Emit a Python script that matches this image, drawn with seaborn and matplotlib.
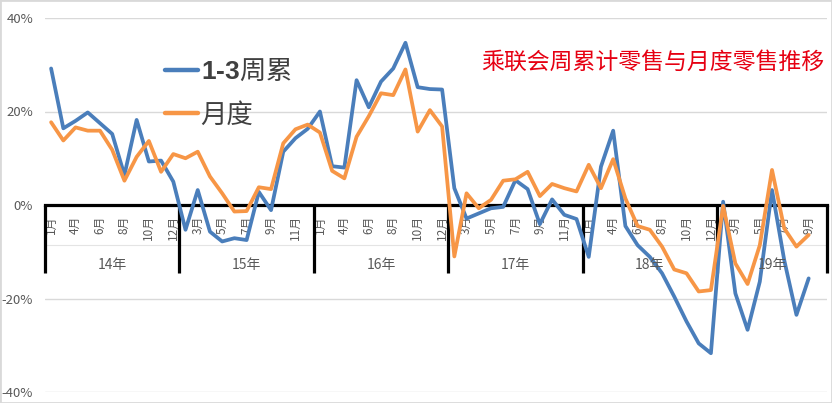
import matplotlib
matplotlib.use("Agg")
import matplotlib.pyplot as plt
import seaborn as sns
import pandas as pd
from matplotlib.patches import Rectangle

# ---------------- data ----------------
years = ["14年", "15年", "16年", "17年", "18年", "19年"]
months_year = ["1月", "3月", "4月", "5月", "6月", "7月", "8月", "9月", "10月", "11月", "12月"]
months_2019 = ["1月", "3月", "4月", "5月", "6月", "7月", "8月", "9月", "10月"]

weekly_cum = [  # 1-3周累 (%)
    29.2, 16.4, 18.0, 19.8, 17.5, 15.2, 6.4, 18.2, 9.3, 9.5, 5.0,
    -5.3, 3.2, -5.7, -7.8, -7.1, -7.5, 2.8, -1.1, 11.4, 14.3, 16.3,
    20.0, 8.3, 8.0, 26.7, 20.9, 26.4, 29.2, 34.7, 25.2, 24.8, 24.7,
    3.6, -2.9, -1.8, -0.7, -0.4, 5.3, 3.4, -4.1, 1.2, -2.1, -3.0,
    -11.1, 8.2, 15.9, -4.5, -8.6, -11.1, -14.6, -19.6, -24.9, -29.6, -31.7,
    0.7, -18.9, -26.7, -16.4, 3.2, -11.8, -23.5, -15.7,
]
monthly = [  # 月度 (%)
    17.7, 13.8, 16.6, 15.9, 15.9, 11.8, 5.2, 10.3, 13.7, 7.1, 10.9,
    10.0, 11.4, 6.1, 2.5, -1.4, -1.3, 3.8, 3.4, 13.2, 16.2, 17.2,
    15.5, 7.3, 5.7, 14.6, 19.0, 23.9, 23.5, 29.0, 15.7, 20.3, 16.8,
    -11.0, 2.5, -0.7, 1.1, 5.2, 5.5, 7.1, 1.9, 4.5, 3.6, 2.9,
    8.6, 3.6, 9.8, 1.4, -4.5, -5.3, -8.9, -13.8, -14.6, -18.5, -18.2,
    -0.2, -12.5, -16.9, -8.6, 7.5, -5.0, -8.9, -6.4,
]
series_names = ["1-3周累", "月度"]
legend_labels = [r"$\mathbf{1\text{-}3}$周累", "月度"]
title = "乘联会周累计零售与月度零售推移"
yticks = [-40, -20, 0, 20, 40]

# ---------------- style ----------------
sns.set_style("white")
plt.rcParams["font.family"] = ["Noto Sans CJK SC", "DejaVu Sans"]
plt.rcParams["mathtext.fontset"] = "custom"
plt.rcParams["mathtext.rm"] = "Liberation Sans:bold"
plt.rcParams["mathtext.bf"] = "Liberation Sans:bold"
plt.rcParams["axes.unicode_minus"] = False

BLUE = "#4a7ebb"
ORANGE = "#f79646"
GRAY = "#595959"

month_labels = []
year_of_cat = []
for y in years:
    ms = months_2019 if y == "19年" else months_year
    month_labels += ms
    year_of_cat += [y] * len(ms)
ncat = len(month_labels)

df = pd.DataFrame({
    "idx": list(range(len(weekly_cum))) + list(range(len(monthly))),
    "value": weekly_cum + monthly,
    "series": [series_names[0]] * len(weekly_cum) + [series_names[1]] * len(monthly),
})

fig = plt.figure(figsize=(8.32, 4.03), dpi=100)
ax = fig.add_axes([45 / 832, 11 / 403, 782 / 832, 374 / 403])

sns.lineplot(data=df, x="idx", y="value", hue="series", hue_order=series_names,
             palette=[BLUE, ORANGE], linewidth=2.7, ax=ax, legend=True)

ax.set_xlim(-0.5, ncat - 0.5)
ax.set_ylim(-40, 40)
ax.set_xlabel("")
ax.set_ylabel("")

# grid
ax.set_yticks(yticks)
ax.set_yticklabels([f"{v}%" for v in yticks])
ax.grid(axis="y", color="#d9d9d9", linewidth=1)
ax.grid(axis="x", visible=False)
ax.set_axisbelow(True)
ax.tick_params(axis="y", length=0, pad=8.5, labelcolor=GRAY, labelsize=9.5)

# category axis at zero
for s in ["left", "right", "top"]:
    ax.spines[s].set_visible(False)
ax.spines["bottom"].set_position(("data", 0))
ax.spines["bottom"].set_color("black")
ax.spines["bottom"].set_linewidth(2.3)
ax.spines["bottom"].set_zorder(1.5)

tick_pos = list(range(0, ncat, 2))
ax.set_xticks(tick_pos)
ax.set_xticklabels([month_labels[i] for i in tick_pos], rotation=90)
ax.tick_params(axis="x", length=0, pad=7.5, labelcolor=GRAY, labelsize=8.5)

# year groups
bounds = [-0.5]
pos = -0.5
for y in years:
    n = year_of_cat.count(y)
    ax.text(pos + n / 2, -12.8, y, ha="center", va="center", color=GRAY, fontsize=10)
    pos += n
    bounds.append(pos)
ax.vlines(bounds, -14.6, 0, color="black", linewidth=2.3, clip_on=False, zorder=1.5)
ax.axhline(-8.6, color="#e4e4e4", linewidth=0.8, zorder=0.5)

# legend
leg = ax.get_legend()
handles = list(leg.legend_handles)
for h in handles:
    h.set_linewidth(3.2)
ax.legend(handles=handles, labels=legend_labels, loc="upper left",
          bbox_to_anchor=(165 / 832, 1 - 58 / 403), bbox_transform=fig.transFigure,
          frameon=False, fontsize=19, handlelength=1.25, handletextpad=0.1,
          labelspacing=0.62, borderpad=0, borderaxespad=0, labelcolor="#404040")

fig.text(653 / 832, 1 - 62 / 403, title, ha="center", va="center",
         color="#e60012", fontsize=16.5)

fig.patches.append(Rectangle((0, 0), 1, 1, transform=fig.transFigure, fill=False,
                             edgecolor="#d9d9d9", linewidth=2))

fig.savefig("out.png", dpi=100)
